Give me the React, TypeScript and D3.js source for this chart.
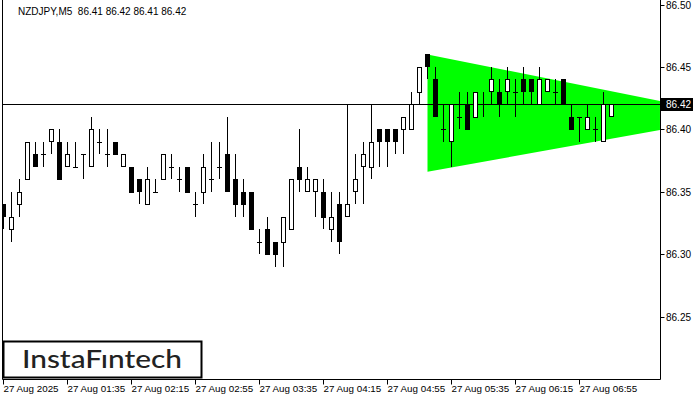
import { useEffect, useRef } from 'react';
import * as d3 from 'd3';

// NZDJPY M5 candles (2-digit prices)
const opens = [
  86.34, 86.32, 86.34, 86.36, 86.38, 86.38, 86.39, 86.39, 86.37, 86.37,
  86.38, 86.37, 86.39, 86.38, 86.39, 86.37, 86.37, 86.36, 86.34, 86.35,
  86.36, 86.37, 86.36, 86.37, 86.34, 86.35, 86.36, 86.37, 86.38, 86.36,
  86.35, 86.35, 86.31, 86.32, 86.31, 86.31, 86.32, 86.37, 86.35, 86.35,
  86.35, 86.32, 86.34, 86.33, 86.35, 86.37, 86.37, 86.4, 86.4, 86.4,
  86.4, 86.4, 86.43, 86.46, 86.44, 86.4, 86.39, 86.41, 86.42, 86.41,
  86.42, 86.43, 86.43, 86.43, 86.43, 86.44, 86.44, 86.42, 86.43, 86.43,
  86.44, 86.41, 86.41, 86.4, 86.4, 86.39, 86.41
];
const highs = [
  86.34, 86.35, 86.36, 86.39, 86.39, 86.39, 86.4, 86.4, 86.39, 86.39,
  86.38, 86.41, 86.4, 86.4, 86.39, 86.38, 86.37, 86.36, 86.37, 86.36,
  86.38, 86.38, 86.37, 86.37, 86.35, 86.38, 86.39, 86.39, 86.41, 86.38,
  86.36, 86.35, 86.32, 86.33, 86.31, 86.33, 86.36, 86.4, 86.37, 86.36,
  86.36, 86.35, 86.35, 86.42, 86.38, 86.39, 86.42, 86.4, 86.4, 86.4,
  86.41, 86.43, 86.45, 86.46, 86.45, 86.42, 86.42, 86.43, 86.43, 86.43,
  86.43, 86.45, 86.44, 86.45, 86.44, 86.45, 86.44, 86.45, 86.44, 86.44,
  86.44, 86.42, 86.41, 86.42, 86.41, 86.43, 86.42
];
const lows = [
  86.32, 86.31, 86.33, 86.36, 86.37, 86.37, 86.38, 86.36, 86.37, 86.37,
  86.36, 86.37, 86.38, 86.37, 86.38, 86.37, 86.35, 86.34, 86.34, 86.35,
  86.36, 86.36, 86.35, 86.35, 86.33, 86.34, 86.35, 86.36, 86.35, 86.33,
  86.33, 86.32, 86.3, 86.3, 86.29, 86.29, 86.32, 86.35, 86.35, 86.33,
  86.32, 86.31, 86.3, 86.33, 86.34, 86.34, 86.36, 86.37, 86.37, 86.38,
  86.38, 86.4, 86.42, 86.44, 86.41, 86.39, 86.37, 86.4, 86.4, 86.41,
  86.41, 86.42, 86.41, 86.42, 86.41, 86.42, 86.42, 86.42, 86.43, 86.42,
  86.42, 86.4, 86.39, 86.4, 86.39, 86.39, 86.41
];
const closes = [
  86.33, 86.33, 86.35, 86.39, 86.37, 86.38, 86.4, 86.36, 86.38, 86.37,
  86.38, 86.4, 86.39, 86.38, 86.38, 86.38, 86.35, 86.35, 86.36, 86.35,
  86.38, 86.37, 86.36, 86.35, 86.34, 86.37, 86.36, 86.37, 86.35, 86.34,
  86.34, 86.32, 86.31, 86.3, 86.3, 86.33, 86.36, 86.36, 86.36, 86.36,
  86.33, 86.33, 86.31, 86.34, 86.36, 86.38, 86.39, 86.39, 86.39, 86.39,
  86.41, 86.42, 86.45, 86.45, 86.41, 86.4, 86.42, 86.41, 86.4, 86.43,
  86.42, 86.44, 86.42, 86.44, 86.43, 86.43, 86.43, 86.44, 86.44, 86.43,
  86.42, 86.4, 86.41, 86.41, 86.4, 86.42, 86.42
];

const priceTicks = [86.25, 86.3, 86.35, 86.4, 86.45, 86.5];
const timeTickIdx = [0, 8, 16, 24, 32, 40, 48, 56, 64, 72];
const timeTickLabels = [
  '27 Aug 2025', '27 Aug 01:35', '27 Aug 02:15', '27 Aug 02:55', '27 Aug 03:35',
  '27 Aug 04:15', '27 Aug 04:55', '27 Aug 05:35', '27 Aug 06:15', '27 Aug 06:55'
];

// bullish symmetrical triangle: bar index, upper and lower edge
const triIdx = [53, 82.06];
const triTop = [86.46, 86.4226];
const triBottom = [86.366, 86.3994];

const lastPrice = 86.42;
const header = 'NZDJPY,M5  86.41 86.42 86.41 86.42';

const W = 700;
const H = 400;

export default function App() {
  const ref = useRef<SVGSVGElement | null>(null);

  useEffect(() => {
    if (!ref.current) return;
    const svg = d3.select(ref.current);
    svg.selectAll('*').remove();

    const plotLeft = 2.5;
    const plotRight = 660.5;
    const plotBottom = 379.5;
    const font = "'Liberation Sans', Arial, sans-serif";

    const x = d3.scaleLinear().domain([0, 76]).range([3.5, 611.5]);
    const y = d3.scaleLinear().domain([86.2, 86.5]).range([379, 4.5]);

    svg.append('rect').attr('width', W).attr('height', H).attr('fill', '#fff');

    svg
      .append('defs')
      .append('clipPath')
      .attr('id', 'plot-clip')
      .append('rect')
      .attr('x', plotLeft)
      .attr('y', 0)
      .attr('width', plotRight - plotLeft)
      .attr('height', plotBottom);

    const g = svg.append('g').attr('clip-path', 'url(#plot-clip)');

    // triangle pattern
    const triPts: [number, number][] = [
      [x(triIdx[0]), y(triTop[0])],
      [x(triIdx[1]), y(triTop[1])],
      [x(triIdx[1]), y(triBottom[1])],
      [x(triIdx[0]), y(triBottom[0])]
    ];
    g.append('path')
      .attr('d', 'M' + triPts.map((p) => p.join(',')).join('L') + 'Z')
      .attr('fill', '#00ff00');

    // last price line
    g.append('line')
      .attr('x1', plotLeft)
      .attr('x2', plotRight)
      .attr('y1', Math.round(y(lastPrice)) + 0.5)
      .attr('y2', Math.round(y(lastPrice)) + 0.5)
      .attr('stroke', '#000')
      .attr('stroke-width', 1);

    const idx = d3.range(opens.length);

    // wicks
    g.selectAll('.wick')
      .data(idx)
      .enter()
      .append('line')
      .attr('x1', (i) => x(i))
      .attr('x2', (i) => x(i))
      .attr('y1', (i) => Math.round(y(highs[i])))
      .attr('y2', (i) => Math.round(y(lows[i])))
      .attr('stroke', '#000')
      .attr('stroke-width', 1)
      .attr('shape-rendering', 'crispEdges');

    // bodies
    g.selectAll('.body')
      .data(idx.filter((i) => opens[i] !== closes[i]))
      .enter()
      .append('rect')
      .attr('x', (i) => x(i) - 2)
      .attr('width', 4)
      .attr('y', (i) => Math.round(y(Math.max(opens[i], closes[i]))) + 0.5)
      .attr('height', (i) => Math.round(Math.abs(y(opens[i]) - y(closes[i]))))
      .attr('fill', (i) => (closes[i] > opens[i] ? '#fff' : '#000'))
      .attr('stroke', '#000')
      .attr('stroke-width', 1);

    // doji
    g.selectAll('.doji')
      .data(idx.filter((i) => opens[i] === closes[i]))
      .enter()
      .append('line')
      .attr('x1', (i) => x(i) - 2.5)
      .attr('x2', (i) => x(i) + 2.5)
      .attr('y1', (i) => Math.round(y(opens[i])) + 0.5)
      .attr('y2', (i) => Math.round(y(opens[i])) + 0.5)
      .attr('stroke', '#000')
      .attr('stroke-width', 1);

    // frame
    svg.append('path')
      .attr('d', `M${plotLeft},0V${plotBottom}H${plotRight}V0`)
      .attr('fill', 'none')
      .attr('stroke', '#000')
      .attr('stroke-width', 1);

    // price axis
    priceTicks.forEach((p) => {
      const py = Math.round(y(p)) + 0.5;
      svg.append('line')
        .attr('x1', plotRight)
        .attr('x2', plotRight + 4)
        .attr('y1', py)
        .attr('y2', py)
        .attr('stroke', '#000');
      svg.append('text')
        .attr('x', 666)
        .attr('y', py)
        .attr('dy', '0.35em')
        .attr('font-family', font)
        .attr('font-size', 10)
        .attr('fill', '#000')
        .text(p.toFixed(2));
    });

    const lp = Math.round(y(lastPrice));
    svg.append('rect')
      .attr('x', 661)
      .attr('y', lp - 6)
      .attr('width', 32)
      .attr('height', 13)
      .attr('fill', '#000');
    svg.append('text')
      .attr('x', 666)
      .attr('y', lp + 0.5)
      .attr('dy', '0.35em')
      .attr('font-family', font)
      .attr('font-size', 10)
      .attr('fill', '#fff')
      .text(lastPrice.toFixed(2));

    // time axis
    timeTickIdx.forEach((t, k) => {
      const tx = x(t);
      svg.append('line')
        .attr('x1', tx)
        .attr('x2', tx)
        .attr('y1', plotBottom)
        .attr('y2', plotBottom + 5)
        .attr('stroke', '#000');
      svg.append('text')
        .attr('x', tx)
        .attr('y', 392)
        .attr('font-family', font)
        .attr('font-size', 9.8)
        .attr('fill', '#000')
        .text(timeTickLabels[k]);
    });

    // header
    svg.append('text')
      .attr('x', 18)
      .attr('y', 14.5)
      .attr('font-family', font)
      .attr('font-size', 10)
      .attr('fill', '#000')
      .style('white-space', 'pre')
      .text(header);

    // logo
    svg.append('rect')
      .attr('x', 3.5)
      .attr('y', 341.5)
      .attr('width', 198)
      .attr('height', 36)
      .attr('fill', '#fff')
      .attr('stroke', '#000')
      .attr('stroke-width', 2);
    svg.append('text')
      .attr('x', 22)
      .attr('y', 368)
      .attr('textLength', 160)
      .attr('lengthAdjust', 'spacingAndGlyphs')
      .attr('font-family', "Lato, Inter, 'Noto Sans', sans-serif")
      .attr('font-size', 25)
      .attr('font-weight', 500)
      .attr('fill', '#222')
      .text('InstaFıntech');
  }, []);

  return (
    <svg
      ref={ref}
      width={W}
      height={H}
      style={{ position: 'absolute', left: 0, top: 0, display: 'block' }}
    />
  );
}
